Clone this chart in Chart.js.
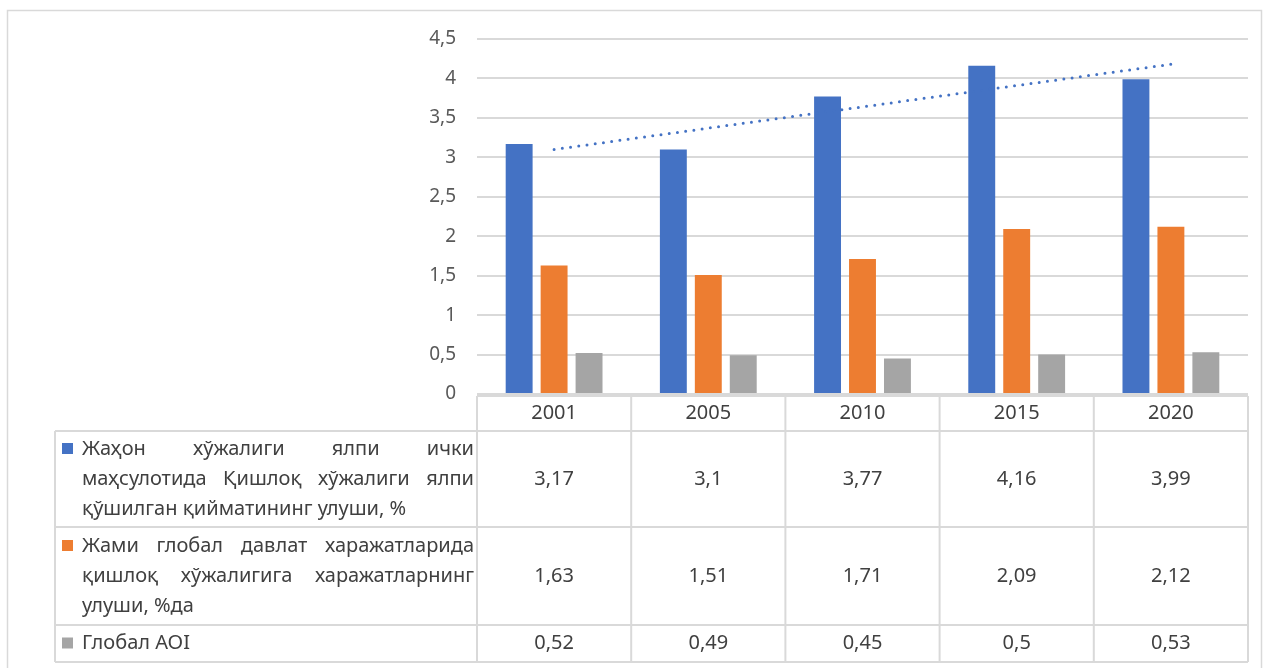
<!DOCTYPE html>
<html>
<head>
<meta charset="utf-8">
<script src="https://cdn.jsdelivr.net/npm/chart.js@4/dist/chart.umd.min.js"></script>
<style>
  html, body { margin: 0; padding: 0; background: #fff; }
  #wrap { width: 1267px; height: 668px; position: relative; }
</style>
</head>
<body>
<div id="wrap"><canvas id="chart" width="1267" height="668"></canvas></div>
<script>
// Chart data
const categories = ['2001', '2005', '2010', '2015', '2020'];
const gdpShare = [3.17, 3.1, 3.77, 4.16, 3.99];
const spendingShare = [1.63, 1.51, 1.71, 2.09, 2.12];
const aoiIndex = [0.52, 0.49, 0.45, 0.5, 0.53];
// dotted linear trend over the first series
const trendValues = [3.1, 3.37, 3.64, 3.91, 4.18];
const yMin = 0;
const yMax = 4.5;
const yStep = 0.5;

const seriesLabels = [
  ['Жаҳон хўжалиги ялпи ички', 'маҳсулотида Қишлоқ хўжалиги ялпи', 'қўшилган қийматининг улуши, %'],
  ['Жами глобал давлат харажатларида', 'қишлоқ хўжалигига харажатларнинг', 'улуши, %да'],
  ['Глобал AOI'],
];
const seriesColors = ['#4472C4', '#ED7D31', '#A5A5A5'];
const seriesValues = [gdpShare, spendingShare, aoiIndex];

const FONT = '"Noto Sans", "Open Sans", sans-serif';
const fmt = (v) => String(v).replace('.', ',');

// Draws the frame and the data table under the plot
const tablePlugin = {
  id: 'dataTable',
  beforeDraw(chart) {
    const { ctx } = chart;
    ctx.save();
    ctx.fillStyle = '#fff';
    ctx.fillRect(0, 0, chart.width, chart.height);
    ctx.strokeStyle = '#d9d9d9';
    ctx.lineWidth = 1.5;
    ctx.strokeRect(7.5, 10.5, 1254, 670);
    ctx.restore();
  },
  afterDraw(chart) {
    const { ctx, chartArea } = chart;
    const x = chart.scales.x;
    const colW = x.getPixelForValue(1) - x.getPixelForValue(0);
    const left = chartArea.left;
    const right = chartArea.right;
    const labelLeft = 55;
    const headTop = chartArea.bottom + 2;
    const headBottom = 431;
    const rowBottoms = [527, 625, 662];

    ctx.save();
    ctx.strokeStyle = '#d9d9d9';
    ctx.lineWidth = 2;
    const line = (x1, y1, x2, y2) => {
      ctx.beginPath();
      ctx.moveTo(x1, y1);
      ctx.lineTo(x2, y2);
      ctx.stroke();
    };
    // header row + body grid
    line(left, headTop, right, headTop);
    line(labelLeft, headBottom, right, headBottom);
    rowBottoms.forEach((b) => line(labelLeft, b, right, b));
    const bottom = rowBottoms[rowBottoms.length - 1];
    line(labelLeft, headBottom, labelLeft, bottom);
    for (let i = 0; i <= categories.length; i++) {
      const cx = left + i * colW;
      line(cx, headTop, cx, bottom);
    }

    ctx.fillStyle = '#404040';
    ctx.font = `20px ${FONT}`;
    ctx.textAlign = 'center';
    ctx.textBaseline = 'middle';
    categories.forEach((c, i) => {
      ctx.fillText(c, x.getPixelForValue(i), (headTop + headBottom) / 2);
    });

    let top = headBottom;
    seriesValues.forEach((vals, r) => {
      const mid = (top + rowBottoms[r]) / 2;
      ctx.textAlign = 'center';
      vals.forEach((v, i) => ctx.fillText(fmt(v), x.getPixelForValue(i), mid));

      // label with legend key, justified like the reference
      const lines = seriesLabels[r];
      const lh = 30;
      const firstY = mid - ((lines.length - 1) * lh) / 2;
      ctx.fillStyle = seriesColors[r];
      ctx.fillRect(62, firstY - 6, 11, 11);
      ctx.fillStyle = '#404040';
      ctx.textAlign = 'left';
      const tx = 82;
      const tRight = left - 3;
      lines.forEach((ln, k) => {
        const y = firstY + k * lh;
        const words = ln.split(' ');
        if (k === lines.length - 1 || words.length < 2) {
          ctx.fillText(ln, tx, y);
          return;
        }
        const widths = words.map((w) => ctx.measureText(w).width);
        const sum = widths.reduce((a, b) => a + b, 0);
        const gap = (tRight - tx - sum) / (words.length - 1);
        let cx = tx;
        words.forEach((w, j) => {
          ctx.fillText(w, cx, y);
          cx += widths[j] + gap;
        });
      });
      top = rowBottoms[r];
    });
    ctx.restore();
  },
};

new Chart(document.getElementById('chart').getContext('2d'), {
  type: 'bar',
  data: {
    labels: categories,
    datasets: [
      {
        type: 'line',
        data: trendValues,
        borderColor: '#4472C4',
        borderWidth: 3,
        borderDash: [0, 8.3],
        borderCapStyle: 'round',
        pointRadius: 0,
        fill: false,
        order: 0,
      },
      { data: gdpShare, backgroundColor: seriesColors[0], order: 1 },
      { data: spendingShare, backgroundColor: seriesColors[1], order: 1 },
      { data: aoiIndex, backgroundColor: seriesColors[2], order: 1 },
    ],
  },
  options: {
    responsive: false,
    animation: false,
    categoryPercentage: 0.68,
    barPercentage: 0.77,
    layout: { padding: { top: 39, bottom: 274, left: 0, right: 19 } },
    plugins: { legend: { display: false }, tooltip: { enabled: false } },
    scales: {
      x: { display: false },
      y: {
        min: yMin,
        max: yMax,
        afterFit: (scale) => { scale.width = 477; },
        ticks: {
          stepSize: yStep,
          padding: 21,
          color: '#595959',
          font: { family: FONT, size: 19 },
          callback: (v) => fmt(v),
        },
        grid: { color: '#d9d9d9', lineWidth: 2, drawTicks: false },
        border: { display: false },
      },
    },
  },
  plugins: [tablePlugin],
});
</script>
</body>
</html>
